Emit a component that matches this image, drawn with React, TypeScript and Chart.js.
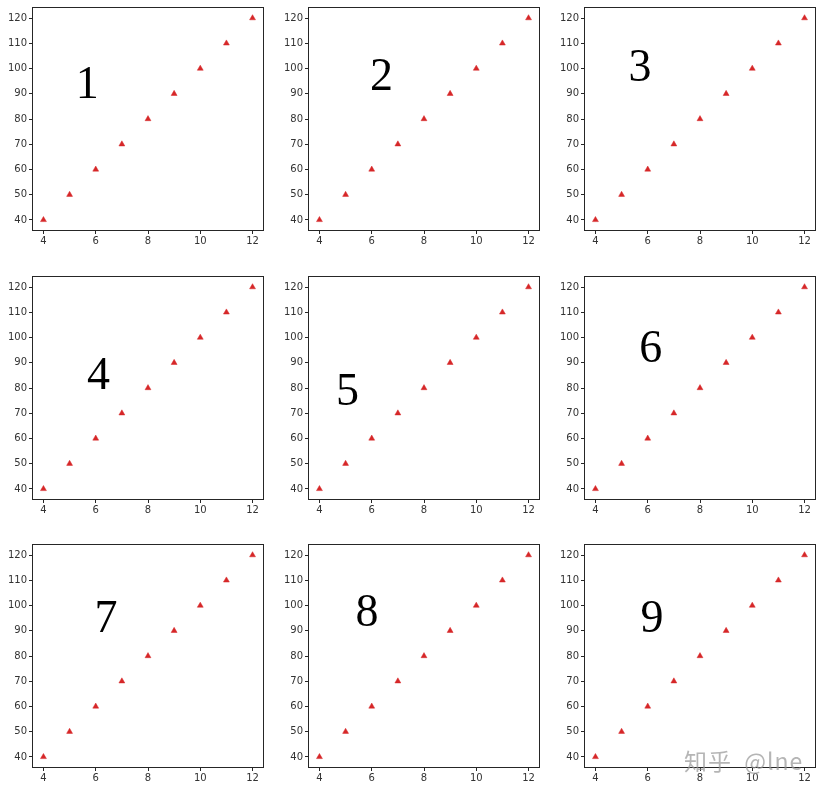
import { useEffect, useRef } from 'react'
import { Chart, registerables } from 'chart.js'

Chart.register(...registerables)

// same series in all nine panels
const X_VALUES = [4, 5, 6, 7, 8, 9, 10, 11, 12]
const Y_VALUES = [40, 50, 60, 70, 80, 90, 100, 110, 120]
const X_TICKS = [4, 6, 8, 10, 12]
const Y_TICKS = [40, 50, 60, 70, 80, 90, 100, 110, 120]
const X_RANGE = [3.6, 12.4]
const Y_RANGE = [36, 124]

// big number in each panel, anchored in data coords (center x, baseline y)
const PANEL_LABELS = ['1', '2', '3', '4', '5', '6', '7', '8', '9']
const LABEL_X = [5.68, 6.37, 5.7, 6.11, 5.07, 6.12, 6.39, 5.82, 6.16]
const LABEL_Y = [88.5, 91.6, 95.2, 79.8, 73.1, 90.5, 89.7, 92.0, 89.7]

const COL_LEFT = [0, 276, 552]
const ROW_TOP = [0, 269, 537]
const CANVAS_W = 270
const CANVAS_H = 250
const INK = '#262626'
const RED = '#d62728'

const framePlugin = {
  id: 'frame',
  afterDraw(chart: any) {
    const { ctx, chartArea } = chart
    ctx.save()
    ctx.strokeStyle = INK
    ctx.lineWidth = 1
    ctx.strokeRect(
      Math.round(chartArea.left) - 0.5,
      Math.round(chartArea.top) - 0.5,
      Math.round(chartArea.right - chartArea.left) + 1,
      Math.round(chartArea.bottom - chartArea.top) + 1
    )
    ctx.restore()
  }
}

const labelPlugin = {
  id: 'panelLabel',
  afterDatasetsDraw(chart: any, _args: any, opts: any) {
    const { ctx, scales } = chart
    const i = opts.index
    ctx.save()
    ctx.font = '46px "Liberation Serif", serif'
    ctx.fillStyle = '#000'
    ctx.textAlign = 'center'
    ctx.textBaseline = 'alphabetic'
    ctx.fillText(PANEL_LABELS[i], scales.x.getPixelForValue(LABEL_X[i]), scales.y.getPixelForValue(LABEL_Y[i]))
    ctx.restore()
  }
}

function Panel({ index }: { index: number }) {
  const chartRef = useRef<HTMLCanvasElement>(null)
  const chartInstance = useRef<Chart | null>(null)

  useEffect(() => {
    if (!chartRef.current) return

    const tickFont = { family: '"DejaVu Sans", sans-serif', size: 10 }

    const config: any = {
      type: 'scatter',
      data: {
        datasets: [
          {
            data: X_VALUES.map((x, i) => ({ x, y: Y_VALUES[i] })),
            pointStyle: 'triangle',
            pointRadius: 3.4,
            backgroundColor: RED,
            borderColor: RED,
            borderWidth: 0.5
          }
        ]
      },
      options: {
        animation: false,
        responsive: true,
        maintainAspectRatio: false,
        layout: { padding: { top: 7, right: 7, left: 0, bottom: 0 } },
        plugins: {
          legend: { display: false },
          tooltip: { enabled: false },
          panelLabel: { index }
        },
        scales: {
          x: {
            type: 'linear',
            min: X_RANGE[0],
            max: X_RANGE[1],
            afterBuildTicks: (s: any) => { s.ticks = X_TICKS.map(v => ({ value: v })) },
            afterFit: (s: any) => { s.height = 20 },
            grid: { drawOnChartArea: false, drawTicks: true, tickLength: 4, color: INK },
            border: { display: false },
            ticks: { color: '#333', font: tickFont, padding: 1, maxRotation: 0 }
          },
          y: {
            type: 'linear',
            min: Y_RANGE[0],
            max: Y_RANGE[1],
            afterBuildTicks: (s: any) => { s.ticks = Y_TICKS.map(v => ({ value: v })) },
            afterFit: (s: any) => { s.width = 33 },
            grid: { drawOnChartArea: false, drawTicks: true, tickLength: 4, color: INK },
            border: { display: false },
            ticks: { color: '#333', font: tickFont, padding: 2 }
          }
        }
      },
      plugins: [framePlugin, labelPlugin]
    }

    if (chartInstance.current) {
      chartInstance.current.destroy()
    }
    chartInstance.current = new Chart(chartRef.current, config)

    return () => {
      if (chartInstance.current) {
        chartInstance.current.destroy()
        chartInstance.current = null
      }
    }
  }, [index])

  const col = index % 3
  const row = Math.floor(index / 3)
  return (
    <div
      style={{
        position: 'absolute',
        left: COL_LEFT[col],
        top: ROW_TOP[row],
        width: CANVAS_W,
        height: CANVAS_H
      }}
    >
      <canvas ref={chartRef} />
    </div>
  )
}

export default function App() {
  return (
    <div style={{ position: 'absolute', left: 0, top: 0, width: 822, height: 793, background: '#fff' }}>
      {PANEL_LABELS.map((_, i) => (
        <Panel key={i} index={i} />
      ))}
      <div
        style={{
          position: 'absolute',
          left: 684,
          top: 743,
          fontFamily: '"Noto Sans CJK SC", sans-serif',
          fontSize: 23,
          wordSpacing: 6,
          letterSpacing: 1,
          color: 'rgba(150, 150, 150, 0.7)',
          whiteSpace: 'nowrap'
        }}
      >
        知乎 @lne
      </div>
    </div>
  )
}
